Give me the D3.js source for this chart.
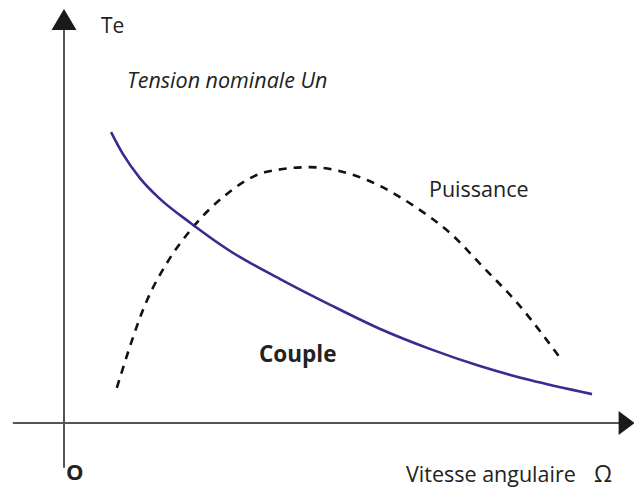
<!DOCTYPE html>
<html>
<head>
<meta charset="utf-8">
<script src="https://cdn.jsdelivr.net/npm/d3@7"></script>
<style>
  html, body { margin: 0; padding: 0; background: #fff; }
  svg { display: block; }
  text { font-family: "Open Sans", "Noto Sans", sans-serif; fill: #222; }
</style>
</head>
<body>
<div id="root"></div>
<script>
// vitesse angulaire (unités arbitraires, 0..100)
const coupleX = [8.55, 10.7, 13.8, 17.5, 23.0, 30.2, 39.3, 48.4, 57.5, 66.5, 75.6, 84.7, 96.0];
const coupleY = [74.6, 69.0, 62.8, 57.4, 51.3, 44.1, 36.9, 30.3, 24.1, 19.0, 14.6, 11.0, 7.4];

const puissX = [9.6, 15.1, 18.7, 23.5, 28.9, 36.9, 44.7, 55.1, 64.2, 70.2, 76.2, 82.4, 90.2];
const puissY = [9.0, 31.5, 41.0, 50.3, 57.9, 64.4, 65.6, 62.3, 55.1, 48.7, 40.0, 30.8, 16.7];

// étendue des axes (mêmes unités)
const axisXExtent = [-9.3, 101.2];
const axisYExtent = [-11.5, 101];

const width = 634, height = 491;

const svg = d3.select('#root').append('svg')
  .attr('width', width)
  .attr('height', height);

// échelles
const x = d3.scaleLinear().domain([0, 100]).range([64, 614]);
const y = d3.scaleLinear().domain([0, 100]).range([423, 33]);

// axes (sans graduations)
svg.append('line')
  .attr('x1', x(axisXExtent[0])).attr('x2', x(axisXExtent[1]))
  .attr('y1', y(0)).attr('y2', y(0))
  .attr('stroke', '#555').attr('stroke-width', 2);

svg.append('line')
  .attr('x1', x(0)).attr('x2', x(0))
  .attr('y1', y(axisYExtent[0])).attr('y2', y(axisYExtent[1]))
  .attr('stroke', '#555').attr('stroke-width', 2);

// flèches
const ax = x(axisXExtent[1]), ay = y(0);
svg.append('path')
  .attr('d', `M${ax - 2},${ay - 12} L${ax + 14},${ay} L${ax - 2},${ay + 12} Z`)
  .attr('fill', '#1a1a1a');

const vx = x(0), vy = y(axisYExtent[1]);
svg.append('path')
  .attr('d', `M${vx - 12.5},${vy + 1} L${vx},${vy - 20} L${vx + 12.5},${vy + 1} Z`)
  .attr('fill', '#1a1a1a');

const line = d3.line()
  .x(d => x(d[0]))
  .y(d => y(d[1]))
  .curve(d3.curveMonotoneX);

// puissance (pointillés)
svg.append('path')
  .datum(d3.zip(puissX, puissY))
  .attr('d', line)
  .attr('fill', 'none')
  .attr('stroke', '#111')
  .attr('stroke-width', 2.6)
  .attr('stroke-dasharray', '8,7');

// couple
svg.append('path')
  .datum(d3.zip(coupleX, coupleY))
  .attr('d', line)
  .attr('fill', 'none')
  .attr('stroke', '#3b2a8f')
  .attr('stroke-width', 2.6);

// textes
svg.append('text').attr('x', 101).attr('y', 33)
  .attr('font-size', 21).text('Te');

svg.append('text').attr('x', 127).attr('y', 88)
  .attr('font-size', 21.5).attr('font-style', 'italic')
  .text('Tension nominale Un');

svg.append('text').attr('x', 429).attr('y', 197)
  .attr('font-size', 21.5).text('Puissance');

svg.append('text').attr('x', 259).attr('y', 362)
  .attr('font-size', 22.5).attr('font-weight', 'bold').text('Couple');

svg.append('text').attr('x', 66).attr('y', 480)
  .attr('font-size', 22).attr('font-weight', 'bold').text('O');

const vt = svg.append('text').attr('x', 406).attr('y', 482)
  .attr('font-size', 21.5);
vt.append('tspan').text('Vitesse angulaire');
vt.append('tspan').attr('x', 594).attr('font-size', 23).text('Ω');
</script>
</body>
</html>
